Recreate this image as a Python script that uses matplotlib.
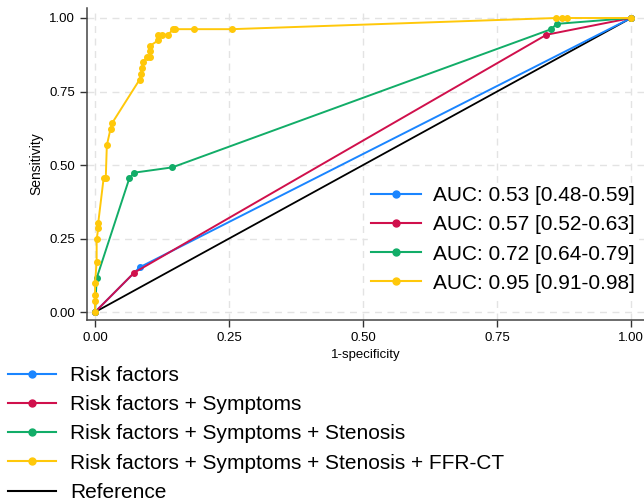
import matplotlib
matplotlib.use("Agg")
import matplotlib.pyplot as plt
from matplotlib.lines import Line2D

plt.rcParams["font.family"] = ["Liberation Sans", "DejaVu Sans"]

# ROC curve points (1-specificity, sensitivity)
risk_fpr = [0.0, 0.083, 1.0]
risk_tpr = [0.0, 0.152, 1.0]

symp_fpr = [0.0, 0.073, 0.842, 1.0]
symp_tpr = [0.0, 0.134, 0.943, 1.0]

sten_fpr = [0.0, 0.003, 0.064, 0.073, 0.144, 0.851, 0.861, 1.0]
sten_tpr = [0.0, 0.115, 0.455, 0.474, 0.492, 0.962, 0.980, 1.0]

ffr_fpr = [0.0, 0.0, 0.0, 0.0, 0.003, 0.003, 0.006, 0.006, 0.016, 0.020,
           0.022, 0.029, 0.032, 0.083, 0.086, 0.087, 0.090, 0.096, 0.103,
           0.102, 0.103, 0.118, 0.118, 0.124, 0.137, 0.145, 0.149, 0.185,
           0.255, 0.860, 0.871, 0.880, 1.0]
ffr_tpr = [0.0, 0.038, 0.058, 0.098, 0.171, 0.247, 0.285, 0.304, 0.455, 0.455,
           0.567, 0.624, 0.643, 0.790, 0.810, 0.830, 0.849, 0.867, 0.867,
           0.887, 0.906, 0.924, 0.943, 0.943, 0.943, 0.962, 0.962, 0.962,
           0.962, 1.0, 1.0, 1.0, 1.0]

model_names = ["Risk factors", "Risk factors + Symptoms",
               "Risk factors + Symptoms + Stenosis",
               "Risk factors + Symptoms + Stenosis + FFR-CT"]
auc_labels = ["AUC: 0.53 [0.48-0.59]", "AUC: 0.57 [0.52-0.63]",
              "AUC: 0.72 [0.64-0.79]", "AUC: 0.95 [0.91-0.98]"]
colors = ["#1A85FF", "#D0104C", "#12AD68", "#FFC80A"]

ticks = [0.0, 0.25, 0.5, 0.75, 1.0]
tick_labels = ["0.00", "0.25", "0.50", "0.75", "1.00"]

fig = plt.figure(figsize=(6.44, 5.01), dpi=100)
ax = fig.add_axes([87 / 644, 1 - 320 / 501, 557 / 644, 312 / 501])

ax.plot([0, 1], [0, 1], color="black", lw=1.3, zorder=2)

curves = [(risk_fpr, risk_tpr), (symp_fpr, symp_tpr),
          (sten_fpr, sten_tpr), (ffr_fpr, ffr_tpr)]
for (fx, fy), c in zip(curves, colors):
    ax.plot(fx, fy, color=c, lw=1.4, marker="o", markersize=4, zorder=3)

ax.set_xlim(-0.015, 1.024)
ax.set_ylim(-0.027, 1.034)
ax.set_xticks(ticks)
ax.set_xticklabels(tick_labels)
ax.set_yticks(ticks)
ax.set_yticklabels(tick_labels)
ax.tick_params(labelsize=9.5, length=5, width=1, color="#333333")
ax.grid(True, color="#e3e3e3", linestyle=(0, (5, 4)), lw=1)
ax.set_axisbelow(True)
for side in ["top", "right"]:
    ax.spines[side].set_visible(False)
for side in ["left", "bottom"]:
    ax.spines[side].set_color("#444444")
    ax.spines[side].set_linewidth(1.1)

ax.set_xlabel("1-specificity", fontsize=9.5, labelpad=4)
ax.set_ylabel("Sensitivity", fontsize=10, labelpad=4.5)

handles = [Line2D([], [], color=c, lw=1.5, marker="o", markersize=5)
           for c in colors]
ax.legend(handles, auc_labels, loc="upper right",
          bbox_to_anchor=(638 / 644, 1 - 183 / 501),
          bbox_transform=fig.transFigure,
          frameon=True, framealpha=1, edgecolor="white", fontsize=15,
          handlelength=2.4, handletextpad=0.58, labelspacing=0.49,
          borderpad=0.15, borderaxespad=0)

handles2 = handles + [Line2D([], [], color="black", lw=1.5)]
fig.legend(handles2, model_names + ["Reference"], loc="upper left",
           bbox_to_anchor=(8 / 644, 1 - 366 / 501), frameon=False,
           fontsize=15, handlelength=2.3, handletextpad=0.67,
           labelspacing=0.49, borderpad=0, borderaxespad=0)

fig.savefig("out.png", dpi=100)
